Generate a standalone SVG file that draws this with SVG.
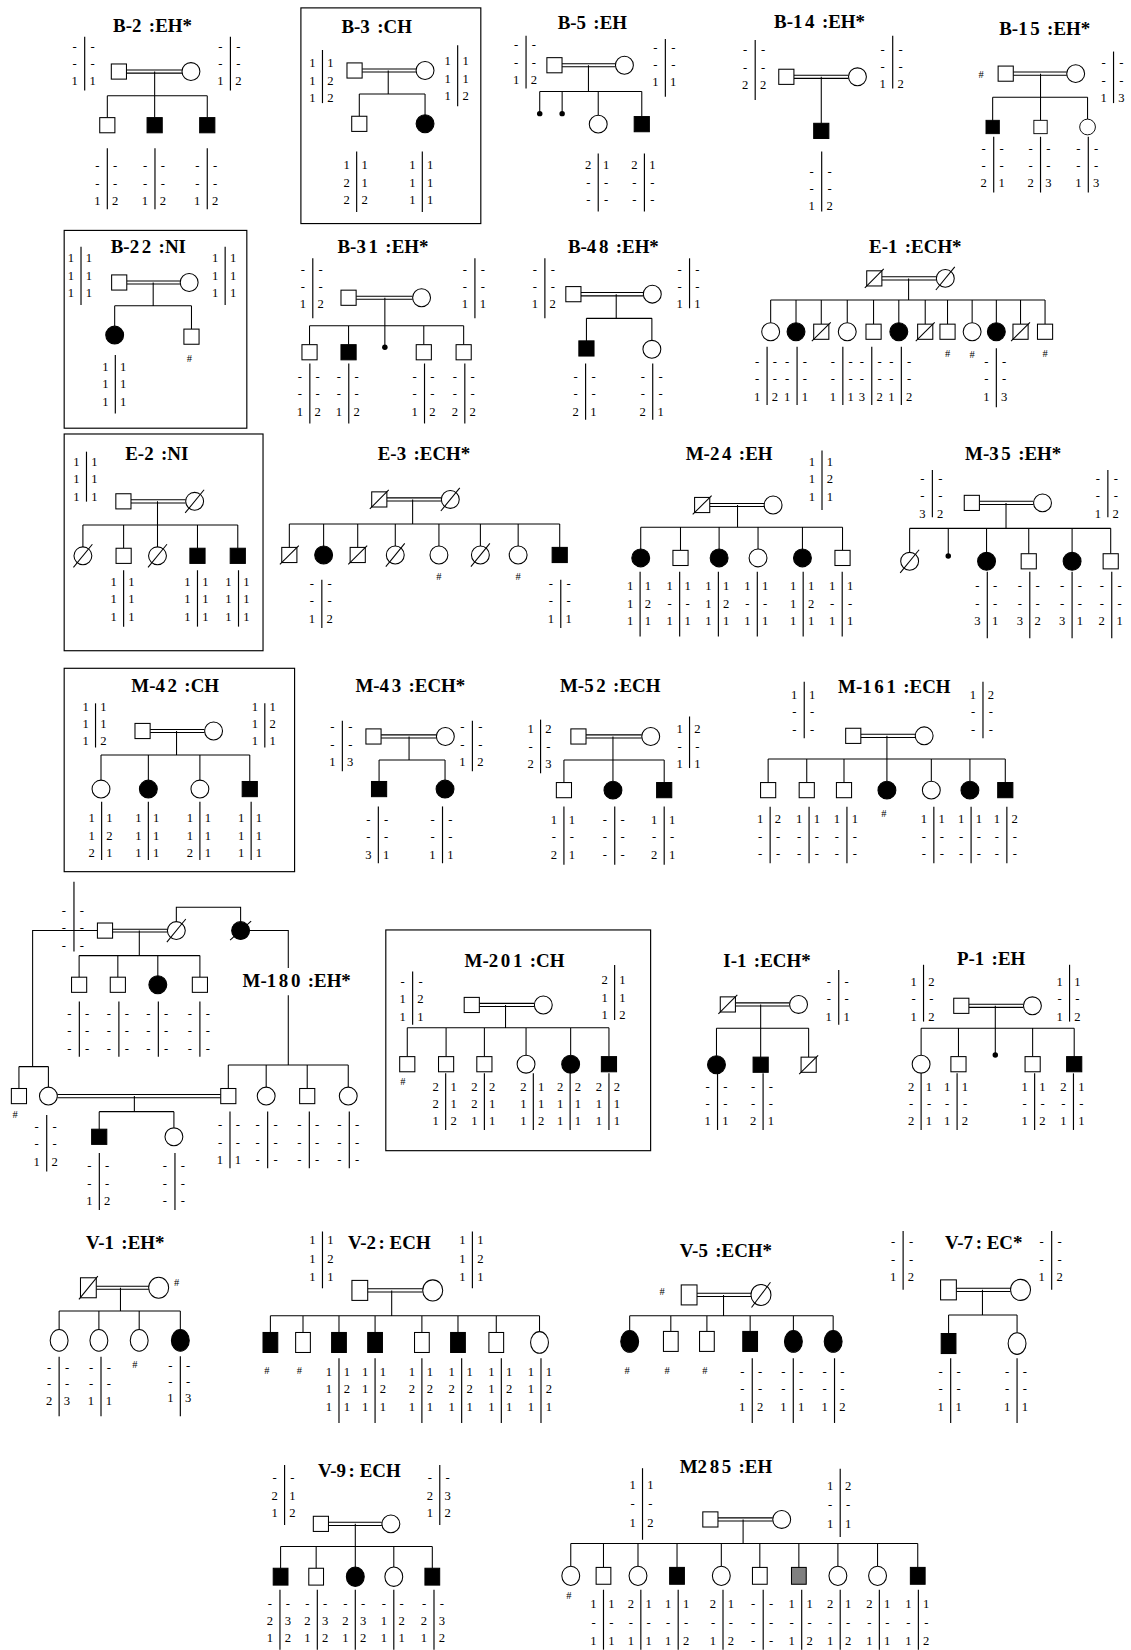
<svg xmlns="http://www.w3.org/2000/svg" width="1131" height="1650" viewBox="0 0 1131 1650">
<style>
.t{font:bold 18px "Liberation Serif",serif;text-anchor:middle}
.g{letter-spacing:2.5px}
.h text{font:12px "Liberation Serif",serif;text-anchor:middle}
.h path{stroke:#000;stroke-width:1.1;fill:none}
.m{font:10px "Liberation Serif",serif;text-anchor:middle}
#connectors path{stroke:#000;stroke-width:1;fill:none}
.box{fill:none;stroke:#000;stroke-width:1.1}
</style>
<defs>
<rect id="s" x="-7.2" y="-7.2" width="14.4" height="14.4" fill="#fff" stroke="#000"/>
<rect id="S" x="-7.2" y="-7.2" width="14.4" height="14.4" fill="#000" stroke="#000"/>
<circle id="c" r="8.5" fill="#fff" stroke="#000"/>
<circle id="C" r="8.5" fill="#000" stroke="#000"/>
<g id="sd"><rect x="-7.2" y="-7.2" width="14.4" height="14.4" fill="#fff" stroke="#000"/><path d="M-9 9L9-9" stroke="#000"/></g>
<g id="cd"><circle r="8.5" fill="#fff" stroke="#000"/><path d="M-9 11L9-11" stroke="#000"/></g>
<g id="Cd"><circle r="8.5" fill="#000" stroke="#000"/><path d="M-10 9L10-9" stroke="#000"/></g>
<circle id="d" r="2.6" fill="#000"/>
<rect id="vs" x="-7" y="-9.5" width="14" height="19" fill="#fff" stroke="#000"/>
<rect id="vS" x="-7" y="-9.5" width="14" height="19" fill="#000" stroke="#000"/>
<ellipse id="ve" rx="8.5" ry="10.3" fill="#fff" stroke="#000"/>
<ellipse id="vE" rx="8.5" ry="10.3" fill="#000" stroke="#000"/>
<rect id="vp" x="-7.5" y="-9.5" width="15" height="19" fill="#fff" stroke="#000"/>
<g id="vpd"><rect x="-7.5" y="-9.5" width="15" height="19" fill="#fff" stroke="#000"/><path d="M-9 11L9-11" stroke="#000"/></g>
<ellipse id="vc" rx="9.5" ry="10" fill="#fff" stroke="#000"/>
<g id="vcd"><ellipse rx="9.5" ry="10" fill="#fff" stroke="#000"/><path d="M-9 12L9-12" stroke="#000"/></g>
<rect id="ws" x="-7" y="-8" width="14" height="16" fill="#fff" stroke="#000"/>
<rect id="wS" x="-7" y="-8" width="14" height="16" fill="#000" stroke="#000"/>
<rect id="wG" x="-7" y="-8" width="14" height="16" fill="#808080" stroke="#000"/>
<ellipse id="we" rx="8.5" ry="9.2" fill="#fff" stroke="#000"/>
<ellipse id="wE" rx="8.5" ry="9.2" fill="#000" stroke="#000"/>
</defs>
<rect width="1131" height="1650" fill="#fff"/>
<g transform="scale(1.0521)">

<g id="connectors">
<path d="M120.2 66.5H173M120.2 69.5H173M147 68V91M102 91H197M102 91V111.8M147 91V111.8M197 91V111.8"/>
<path d="M344.2 65.5H395.5M344.2 68.5H395.5M369 67V89.4M341.5 89.4H404M341.5 89.4V110.5M404 89.4V109.1"/>
<path d="M534.2 60.5H585M534.2 63.5H585M559.3 62V87M513 87H610M513 87V108M534.3 87V108M568.6 87V109.5M610 87V110.8"/>
<path d="M754.6 71.5H806.5M754.6 74.5H806.5M780.6 73V117.2"/>
<path d="M963.1 68.5H1014M963.1 71.5H1014M989 70V92.5M943.5 92.5H1033.7M943.5 92.5V114.7M989 92.5V114.7M1033.7 92.5V114"/>
<path d="M120.5 267H171.3M120.5 270H171.3M145.6 268.5V290.6M109 290.6H182M109 290.6V310M182 290.6V312.8"/>
<path d="M338.5 281.5H392.2M338.5 284.5H392.2M365.8 283V330M294.2 309.6H440.7M294.2 309.6V327.6M331.3 309.6V327.6M402.8 309.6V327.6M440.7 309.6V327.6"/>
<path d="M552.2 278H611.5M552.2 281.2H611.5M585.7 279.6V302.6M557.4 302.6H619.6M557.4 302.6V324M619.6 302.6V323.5"/>
<path d="M838.2 263H890M838.2 266.2H890M863.6 264.6V285.2M732.5 285.2H993.3M732.5 285.2V306.8M756.6 285.2V306.8M780.6 285.2V308.1M805.3 285.2V306.8M830.3 285.2V308.1M854.3 285.2V306.8M879.4 285.2V308.1M900.6 285.2V308.1M924 285.2V306.8M947 285.2V306.8M970 285.2V308.1M993.3 285.2V308.1"/>
<path d="M124.5 475H176.5M124.5 478H176.5M149.7 476.5V499M78.8 499H226M78.8 499V519.8M117.5 499V521.1M149.7 499V519.8M187.7 499V521.1M226 499V521.1"/>
<path d="M367.7 473.2H419.5M367.7 476.2H419.5M392.2 474.7V498M275 498H532M275 498V520.3M307.6 498V519M340 498V520.3M375.7 498V519M417.2 498V519M456.6 498V519M492.5 498V519M532 498V520.3"/>
<path d="M674.6 478.5H726.3M674.6 481.5H726.3M701 480V501.2M609 501.2H800.8M609 501.2V521.8M646.8 501.2V523.1M683.5 501.2V521.8M720.5 501.2V521.8M762.7 501.2V521.8M800.8 501.2V523.1"/>
<path d="M930.9 476.5H982.4M930.9 479.5H982.4M956.2 478V502.2M864.6 502.2H1055.7M864.6 502.2V525M901.3 502.2V528.5M937.7 502.2V525M977.8 502.2V526.3M1019 502.2V525M1055.7 502.2V526.3"/>
<path d="M142.7 693.3H194.5M142.7 696.3H194.5M167.8 694.8V717.6M96 717.6H237.4M96 717.6V741.5M141 717.6V741.5M190 717.6V741.5M237.4 717.6V742.8"/>
<path d="M362.2 698.5H414.8M362.2 701.5H414.8M388.8 700V722.4M360.3 722.4H423M360.3 722.4V742.8M423 722.4V741.5"/>
<path d="M557 698.5H610M557 701.5H610M582.6 700V722.4M536 722.4H631.3M536 722.4V743.8M582.6 722.4V742.5M631.3 722.4V743.8"/>
<path d="M818.2 697.9H870M818.2 700.9H870M843 699.4V721.4M730.1 721.4H955.5M730.1 721.4V743.8M766.8 721.4V743.8M802.2 721.4V743.8M843 721.4V742.5M885.2 721.4V742.5M921.9 721.4V742.5M955.5 721.4V743.8"/>
<path d="M107 883.2H159.1M107 885.8H159.1M132.4 884.5V908.3M75.2 908.3H190M75.2 908.3V928.8M112 908.3V928.8M150 908.3V927.5M190 908.3V928.8M167.6 876V862.4H228.7V876M237.2 884.5H274V920M274 946V1012.3M217 1012.3H331M217 1012.3V1034.6M253 1012.3V1033.3M292 1012.3V1034.6M331 1012.3V1033.3M92.6 884.5H31V1013.8M18 1013.8H46M18 1013.8V1034.6M46 1013.8V1033.3M54.5 1040.3H209.8M54.5 1043.3H209.8M127.7 1041.8V1056.6M94.3 1056.6H165.3M94.3 1056.6V1073M165.3 1056.6V1072"/>
<path d="M455.6 953.7H507.9M455.6 956.7H507.9M480.5 955.2V976.8M387.1 976.8H578.8M387.1 976.8V1004.3M424 976.8V1004.3M460.4 976.8V1004.3M500 976.8V1003M542.4 976.8V1003M578.8 976.8V1004.3"/>
<path d="M699 953.2H750.5M699 956.2H750.5M723 954.7V977.4M681 977.4H768.6M681 977.4V1003.5M723 977.4V1004.8M768.6 977.4V1004.8"/>
<path d="M920.9 954.5H972.8M920.9 957.5H972.8M946 956V1002.7M875.5 977.4H1021M875.5 977.4V1003M911 977.4V1004.3M981.5 977.4V1004.3M1021 977.4V1004.3"/>
<path d="M91.5 1222.5H141.5M91.5 1225.5H141.5M114.5 1224V1246M56.2 1246H171.4M56.2 1246V1263.7M94 1246V1263.7M132.3 1246V1263.7M171.4 1246V1263.7"/>
<path d="M349.5 1225H401.8M349.5 1228H401.8M372.3 1226.5V1250.5M257 1250.5H512.8M257 1250.5V1266.5M288 1250.5V1266.5M322.2 1250.5V1266.5M356.5 1250.5V1266.5M401 1250.5V1266.5M435.3 1250.5V1266.5M471.7 1250.5V1266.5M512.8 1250.5V1265.7"/>
<path d="M662.5 1229.3H713.8M662.5 1232.3H713.8M687.7 1230.8V1250.5M598.5 1250.5H791.9M598.5 1250.5V1264.7M637.6 1250.5V1265.5M671.9 1250.5V1265.5M713 1250.5V1265.5M754.1 1250.5V1264.7M791.9 1250.5V1264.7"/>
<path d="M909 1224.5H960.5M909 1227.5H960.5M933.8 1226V1249.9M901.6 1249.9H966.7M901.6 1249.9V1267.5M966.7 1249.9V1266.7"/>
<path d="M312.2 1446.9H363M312.2 1449.9H363M337.7 1448.4V1489.4M266.7 1470H410.9M266.7 1470V1490.6M300.5 1470V1490.6M374.3 1470V1489.4M410.9 1470V1490.6"/>
<path d="M682.4 1442.7H734.5M682.4 1445.7H734.5M706.3 1444.2V1467M542.5 1467H872.3M542.5 1467V1488.6M573.6 1467V1489.8M606.4 1467V1488.6M643.5 1467V1489.8M685.6 1467V1488.6M722.2 1467V1489.8M759.3 1467V1489.8M796.4 1467V1488.6M834.1 1467V1488.6M872.3 1467V1489.8"/>
</g>

<g id="B-2">
<text class="t" x="145" y="30">B-<tspan class="g">2</tspan> :EH*</text>
<use id="B2-f" href="#s" x="113" y="68"/><use id="B2-m" href="#c" x="181.5" y="68"/>
<use id="B2-1" href="#s" x="102" y="119"/><use id="B2-2" href="#S" x="147" y="119"/><use id="B2-3" href="#S" x="197" y="119"/>
<g class="h">
<g transform="translate(80.5 48)"><path d="M0-13V38"/><text x="-9.5 -9.5 -9.5 7.5 7.5 7.5" y="0 16.5 33 0 16.5 33">--1--1</text></g>
<g transform="translate(219 48)"><path d="M0-13V38"/><text x="-9.5 -9.5 -9.5 7.5 7.5 7.5" y="0 16.5 33 0 16.5 33">--1--2</text></g>
<g transform="translate(102 162)"><path d="M0-21V37"/><text x="-9.5 -9.5 -9.5 7.5 7.5 7.5" y="0 16.5 33 0 16.5 33">--1--2</text></g>
<g transform="translate(147.3 162)"><path d="M0-21V37"/><text x="-9.5 -9.5 -9.5 7.5 7.5 7.5" y="0 16.5 33 0 16.5 33">--1--2</text></g>
<g transform="translate(197 162)"><path d="M0-21V37"/><text x="-9.5 -9.5 -9.5 7.5 7.5 7.5" y="0 16.5 33 0 16.5 33">--1--2</text></g>
</g>
</g>

<g id="B-3">
<rect class="box" x="286" y="7.5" width="171" height="205"/>
<text class="t" x="358" y="31">B-<tspan class="g">3</tspan> :CH</text>
<use id="B3-f" href="#s" x="337" y="67"/><use id="B3-m" href="#c" x="404" y="67"/>
<use id="B3-1" href="#s" x="341.5" y="117.7"/><use id="B3-2" href="#C" x="404" y="117.6"/>
<g class="h">
<g transform="translate(306.5 64)"><path d="M0-16.5V34"/><text x="-9.5 -9.5 -9.5 7.5 7.5 7.5" y="0 16.5 33 0 16.5 33">111122</text></g>
<g transform="translate(435 62)"><path d="M0-19V39"/><text x="-9.5 -9.5 -9.5 7.5 7.5 7.5" y="0 16.5 33 0 16.5 33">111112</text></g>
<g transform="translate(339 161)"><path d="M0-17V40.5"/><text x="-9.5 -9.5 -9.5 7.5 7.5 7.5" y="0 16.5 33 0 16.5 33">122112</text></g>
<g transform="translate(401.4 161)"><path d="M0-17V40.5"/><text x="-9.5 -9.5 -9.5 7.5 7.5 7.5" y="0 16.5 33 0 16.5 33">111111</text></g>
</g>
</g>

<g id="B-5">
<text class="t" x="563" y="28">B-<tspan class="g">5</tspan> :EH</text>
<use id="B5-f" href="#s" x="527" y="62"/><use id="B5-m" href="#c" x="593.5" y="62"/>
<use id="B5-1" href="#d" x="513" y="108"/><use id="B5-2" href="#d" x="534.3" y="108"/>
<use id="B5-3" href="#c" x="568.6" y="118"/><use id="B5-4" href="#S" x="610" y="118"/>
<g class="h">
<g transform="translate(500 47)"><path d="M0-13V37"/><text x="-9.5 -9.5 -9.5 7.5 7.5 7.5" y="0 16.5 33 0 16.5 33">--1--2</text></g>
<g transform="translate(632.4 49)"><path d="M0-12V43"/><text x="-9.5 -9.5 -9.5 7.5 7.5 7.5" y="0 16.5 33 0 16.5 33">--1--1</text></g>
<g transform="translate(568.6 161)"><path d="M0-15V40"/><text x="-9.5 -9.5 -9.5 7.5 7.5 7.5" y="0 16.5 33 0 16.5 33">2--1--</text></g>
<g transform="translate(612.5 161)"><path d="M0-15V40"/><text x="-9.5 -9.5 -9.5 7.5 7.5 7.5" y="0 16.5 33 0 16.5 33">2--1--</text></g>
</g>
</g>

<g id="B-14">
<text class="t" x="779" y="27">B-<tspan class="g">14</tspan> :EH*</text>
<use id="B14-f" href="#s" x="747.4" y="73"/><use id="B14-m" href="#c" x="815" y="73"/>
<use id="B14-1" href="#S" x="780.6" y="124.4"/>
<g class="h">
<g transform="translate(717.8 51.5)"><path d="M0-13.5V43.5"/><text x="-9.5 -9.5 -9.5 7.5 7.5 7.5" y="0 16.5 33 0 16.5 33">--2--2</text></g>
<g transform="translate(848.5 51)"><path d="M0-17V33"/><text x="-9.5 -9.5 -9.5 7.5 7.5 7.5" y="0 16.5 33 0 16.5 33">--1--2</text></g>
<g transform="translate(781 167)"><path d="M0-23V34"/><text x="-9.5 -9.5 -9.5 7.5 7.5 7.5" y="0 16.5 33 0 16.5 33">--1--2</text></g>
</g>
</g>

<g id="B-15">
<text class="t" x="993" y="33">B-<tspan class="g">15</tspan> :EH*</text>
<text class="m" x="932.5" y="74">#</text>
<use id="B15-f" href="#s" x="955.9" y="70"/><use id="B15-m" href="#c" x="1022.4" y="70"/>
<use id="B15-1" href="#S" transform="translate(943.5 120.7) scale(.88)"/>
<use id="B15-2" href="#s" transform="translate(989 120.7) scale(.88)"/>
<use id="B15-3" href="#c" transform="translate(1033.7 120.7) scale(.88)"/>
<g class="h">
<g transform="translate(1058.4 64)"><path d="M0-15V34"/><text x="-9.5 -9.5 -9.5 7.5 7.5 7.5" y="0 16.5 33 0 16.5 33">--1--3</text></g>
<g transform="translate(944.5 145)"><path d="M0-15V38"/><text x="-9.5 -9.5 -9.5 7.5 7.5 7.5" y="0 16.5 33 0 16.5 33">--2--1</text></g>
<g transform="translate(989 145)"><path d="M0-15V38"/><text x="-9.5 -9.5 -9.5 7.5 7.5 7.5" y="0 16.5 33 0 16.5 33">--2--3</text></g>
<g transform="translate(1034.4 145)"><path d="M0-15V38"/><text x="-9.5 -9.5 -9.5 7.5 7.5 7.5" y="0 16.5 33 0 16.5 33">--1--3</text></g>
</g>
</g>

<g id="B-22">
<rect class="box" x="61" y="219" width="173.6" height="188"/>
<text class="t" x="141" y="240">B-<tspan class="g">22</tspan> :NI</text>
<use id="B22-f" href="#s" x="113.3" y="268.5"/><use id="B22-m" href="#c" x="179.8" y="268.5"/>
<use id="B22-1" href="#C" x="109" y="318.5"/><use id="B22-2" href="#s" x="182" y="320"/>
<text class="m" x="180" y="344">#</text>
<g class="h">
<g transform="translate(77 249.5)"><path d="M0-15V40.5"/><text x="-9.5 -9.5 -9.5 7.5 7.5 7.5" y="0 16.5 33 0 16.5 33">111111</text></g>
<g transform="translate(214 249.5)"><path d="M0-15V40.5"/><text x="-9.5 -9.5 -9.5 7.5 7.5 7.5" y="0 16.5 33 0 16.5 33">111111</text></g>
<g transform="translate(109.6 352.5)"><path d="M0-15V40.5"/><text x="-9.5 -9.5 -9.5 7.5 7.5 7.5" y="0 16.5 33 0 16.5 33">111111</text></g>
</g>
</g>

<g id="B-31">
<text class="t" x="364" y="240">B-<tspan class="g">31</tspan> :EH*</text>
<use id="B31-f" href="#s" x="331.3" y="283"/><use id="B31-m" href="#c" x="400.7" y="283"/>
<use id="B31-1" href="#s" x="294.2" y="334.8"/><use id="B31-2" href="#S" x="331.3" y="334.8"/><use id="B31-3" href="#d" x="365.8" y="330"/><use id="B31-4" href="#s" x="402.8" y="334.8"/><use id="B31-5" href="#s" x="440.7" y="334.8"/>
<g class="h">
<g transform="translate(297.3 260)"><path d="M0-14.5V42.5"/><text x="-9.5 -9.5 -9.5 7.5 7.5 7.5" y="0 16.5 33 0 16.5 33">--1--2</text></g>
<g transform="translate(451.4 260)"><path d="M0-14.5V42.5"/><text x="-9.5 -9.5 -9.5 7.5 7.5 7.5" y="0 16.5 33 0 16.5 33">--1--1</text></g>
<g transform="translate(294.5 362)"><path d="M0-16.5V40.5"/><text x="-9.5 -9.5 -9.5 7.5 7.5 7.5" y="0 16.5 33 0 16.5 33">--1--2</text></g>
<g transform="translate(331.5 362)"><path d="M0-16.5V40.5"/><text x="-9.5 -9.5 -9.5 7.5 7.5 7.5" y="0 16.5 33 0 16.5 33">--1--2</text></g>
<g transform="translate(403.5 362)"><path d="M0-16.5V40.5"/><text x="-9.5 -9.5 -9.5 7.5 7.5 7.5" y="0 16.5 33 0 16.5 33">--1--2</text></g>
<g transform="translate(441.8 362)"><path d="M0-16.5V40.5"/><text x="-9.5 -9.5 -9.5 7.5 7.5 7.5" y="0 16.5 33 0 16.5 33">--2--2</text></g>
</g>
</g>

<g id="B-48">
<text class="t" x="583" y="240">B-<tspan class="g">48</tspan> :EH*</text>
<use id="B48-f" href="#s" x="545" y="279.6"/><use id="B48-m" href="#c" x="620" y="279.6"/>
<use id="B48-1" href="#S" x="557.4" y="331.2"/><use id="B48-2" href="#c" x="619.6" y="332"/>
<g class="h">
<g transform="translate(517.9 260)"><path d="M0-14.5V42.5"/><text x="-9.5 -9.5 -9.5 7.5 7.5 7.5" y="0 16.5 33 0 16.5 33">--1--2</text></g>
<g transform="translate(655.4 260)"><path d="M0-14.5V33"/><text x="-9.5 -9.5 -9.5 7.5 7.5 7.5" y="0 16.5 33 0 16.5 33">--1--1</text></g>
<g transform="translate(556.6 362)"><path d="M0-16.5V37"/><text x="-9.5 -9.5 -9.5 7.5 7.5 7.5" y="0 16.5 33 0 16.5 33">--2--1</text></g>
<g transform="translate(620.4 362)"><path d="M0-16.5V37"/><text x="-9.5 -9.5 -9.5 7.5 7.5 7.5" y="0 16.5 33 0 16.5 33">--2--1</text></g>
</g>
</g>

<g id="E-1">
<text class="t" x="870" y="240">E-<tspan class="g">1</tspan> :ECH*</text>
<use id="E1-f" href="#sd" x="831" y="264.6"/><use id="E1-m" href="#cd" x="898.5" y="264.6"/>
<use href="#c" x="732.5" y="315.3"/><use href="#C" x="756.6" y="315.3"/><use href="#sd" x="780.6" y="315.3"/><use href="#c" x="805.3" y="315.3"/><use href="#s" x="830.3" y="315.3"/><use href="#C" x="854.3" y="315.3"/><use href="#sd" x="879.4" y="315.3"/><use href="#s" x="900.6" y="315.3"/><use href="#c" x="924" y="315.3"/><use href="#C" x="947" y="315.3"/><use href="#sd" x="970" y="315.3"/><use href="#s" x="993.3" y="315.3"/>
<text class="m" x="900.6" y="339">#</text><text class="m" x="924" y="340">#</text><text class="m" x="993.3" y="339">#</text>
<g class="h">
<g transform="translate(729.1 348)"><path d="M0-18.5V37"/><text x="-9.5 -9.5 -9.5 7.5 7.5 7.5" y="0 16.5 33 0 16.5 33">--1--2</text></g>
<g transform="translate(757.6 348)"><path d="M0-18.5V37"/><text x="-9.5 -9.5 -9.5 7.5 7.5 7.5" y="0 16.5 33 0 16.5 33">--1--1</text></g>
<g transform="translate(801.1 348)"><path d="M0-18.5V37"/><text x="-9.5 -9.5 -9.5 7.5 7.5 7.5" y="0 16.5 33 0 16.5 33">--1--1</text></g>
<g transform="translate(828.6 348)"><path d="M0-18.5V37"/><text x="-9.5 -9.5 -9.5 7.5 7.5 7.5" y="0 16.5 33 0 16.5 33">--3--2</text></g>
<g transform="translate(856.7 348)"><path d="M0-18.5V37"/><text x="-9.5 -9.5 -9.5 7.5 7.5 7.5" y="0 16.5 33 0 16.5 33">--1--2</text></g>
<g transform="translate(947 348)"><path d="M0-17V39"/><text x="-9.5 -9.5 -9.5 7.5 7.5 7.5" y="0 16.5 33 0 16.5 33">--1--3</text></g>
</g>
</g>

<g id="E-2">
<rect class="box" x="61" y="412.5" width="189" height="206"/>
<text class="t" x="149" y="437">E-<tspan class="g">2</tspan> :NI</text>
<use id="E2-f" href="#s" x="117.3" y="476.5"/><use id="E2-m" href="#cd" x="185" y="476.5"/>
<use href="#cd" x="78.8" y="528.3"/><use href="#s" x="117.5" y="528.3"/><use href="#cd" x="149.7" y="528.3"/><use href="#S" x="187.7" y="528.3"/><use href="#S" x="226" y="528.3"/>
<g class="h">
<g transform="translate(82.2 443)"><path d="M0-13.7V33.8"/><text x="-9.5 -9.5 -9.5 7.5 7.5 7.5" y="0 16.5 33 0 16.5 33">111111</text></g>
<g transform="translate(117.5 557)"><path d="M0-15V38.6"/><text x="-9.5 -9.5 -9.5 7.5 7.5 7.5" y="0 16.5 33 0 16.5 33">111111</text></g>
<g transform="translate(187.7 557)"><path d="M0-15V38.6"/><text x="-9.5 -9.5 -9.5 7.5 7.5 7.5" y="0 16.5 33 0 16.5 33">111111</text></g>
<g transform="translate(226.7 557)"><path d="M0-15V38.6"/><text x="-9.5 -9.5 -9.5 7.5 7.5 7.5" y="0 16.5 33 0 16.5 33">111111</text></g>
</g>
</g>

<g id="E-3">
<text class="t" x="403" y="437">E-<tspan class="g">3</tspan> :ECH*</text>
<use id="E3-f" href="#sd" x="360.5" y="474.7"/><use id="E3-m" href="#cd" x="428" y="474.7"/>
<use href="#sd" x="275" y="527.5"/><use href="#C" x="307.6" y="527.5"/><use href="#sd" x="340" y="527.5"/><use href="#cd" x="375.7" y="527.5"/><use href="#c" x="417.2" y="527.5"/><use href="#cd" x="456.6" y="527.5"/><use href="#c" x="492.5" y="527.5"/><use href="#S" x="532" y="527.5"/>
<text class="m" x="417.2" y="551">#</text><text class="m" x="492.5" y="551">#</text>
<g class="h">
<g transform="translate(305.9 559)"><path d="M0-8V38"/><text x="-9.5 -9.5 -9.5 7.5 7.5 7.5" y="0 16.5 33 0 16.5 33">--1--2</text></g>
<g transform="translate(533 559)"><path d="M0-8V38"/><text x="-9.5 -9.5 -9.5 7.5 7.5 7.5" y="0 16.5 33 0 16.5 33">--1--1</text></g>
</g>
</g>

<g id="M-24">
<text class="t" x="693" y="437">M-<tspan class="g">24</tspan> :EH</text>
<use id="M24-f" href="#sd" x="667.4" y="480"/><use id="M24-m" href="#c" x="734.8" y="480"/>
<use href="#C" x="609" y="530.3"/><use href="#s" x="646.8" y="530.3"/><use href="#C" x="683.5" y="530.3"/><use href="#c" x="720.5" y="530.3"/><use href="#C" x="762.7" y="530.3"/><use href="#s" x="800.8" y="530.3"/>
<g class="h">
<g transform="translate(781.3 443)"><path d="M0-14.7V41.7"/><text x="-9.5 -9.5 -9.5 7.5 7.5 7.5" y="0 16.5 33 0 16.5 33">111121</text></g>
<g transform="translate(608.4 561)"><path d="M0-17.6V44"/><text x="-9.5 -9.5 -9.5 7.5 7.5 7.5" y="0 16.5 33 0 16.5 33">111121</text></g>
<g transform="translate(646 561)"><path d="M0-17.6V44"/><text x="-9.5 -9.5 -9.5 7.5 7.5 7.5" y="0 16.5 33 0 16.5 33">1-11-1</text></g>
<g transform="translate(682.8 561)"><path d="M0-17.6V44"/><text x="-9.5 -9.5 -9.5 7.5 7.5 7.5" y="0 16.5 33 0 16.5 33">111121</text></g>
<g transform="translate(719.8 561)"><path d="M0-17.6V44"/><text x="-9.5 -9.5 -9.5 7.5 7.5 7.5" y="0 16.5 33 0 16.5 33">1-11-1</text></g>
<g transform="translate(763.4 561)"><path d="M0-17.6V44"/><text x="-9.5 -9.5 -9.5 7.5 7.5 7.5" y="0 16.5 33 0 16.5 33">111121</text></g>
<g transform="translate(800.5 561)"><path d="M0-17.6V44"/><text x="-9.5 -9.5 -9.5 7.5 7.5 7.5" y="0 16.5 33 0 16.5 33">1-11-1</text></g>
</g>
</g>

<g id="M-35">
<text class="t" x="963" y="437">M-<tspan class="g">35</tspan> :EH*</text>
<use id="M35-f" href="#s" x="923.7" y="478"/><use id="M35-m" href="#c" x="990.9" y="478"/>
<use href="#cd" x="864.6" y="533.5"/><use href="#d" x="901.3" y="528.5"/><use href="#C" x="937.7" y="533.5"/><use href="#s" x="977.8" y="533.5"/><use href="#C" x="1019" y="533.5"/><use href="#s" x="1055.7" y="533.5"/>
<g class="h">
<g transform="translate(886.2 459)"><path d="M0-12.3V32.7"/><text x="-9.5 -9.5 -9.5 7.5 7.5 7.5" y="0 16.5 33 0 16.5 33">--3--2</text></g>
<g transform="translate(1053 459)"><path d="M0-12.3V32.7"/><text x="-9.5 -9.5 -9.5 7.5 7.5 7.5" y="0 16.5 33 0 16.5 33">--1--2</text></g>
<g transform="translate(938.4 561)"><path d="M0-17.6V45.7"/><text x="-9.5 -9.5 -9.5 7.5 7.5 7.5" y="0 16.5 33 0 16.5 33">--3--1</text></g>
<g transform="translate(978.8 561)"><path d="M0-17.6V45.7"/><text x="-9.5 -9.5 -9.5 7.5 7.5 7.5" y="0 16.5 33 0 16.5 33">--3--2</text></g>
<g transform="translate(1019 561)"><path d="M0-17.6V45.7"/><text x="-9.5 -9.5 -9.5 7.5 7.5 7.5" y="0 16.5 33 0 16.5 33">--3--1</text></g>
<g transform="translate(1056.7 561)"><path d="M0-17.6V45.7"/><text x="-9.5 -9.5 -9.5 7.5 7.5 7.5" y="0 16.5 33 0 16.5 33">--2--1</text></g>
</g>
</g>

<g id="M-42">
<rect class="box" x="61" y="635.2" width="219" height="193.3"/>
<text class="t" x="166.5" y="657.4">M-<tspan class="g">42</tspan> :CH</text>
<use id="M42-f" href="#s" x="135.5" y="694.8"/><use id="M42-m" href="#c" x="203" y="694.8"/>
<use href="#c" x="96" y="750"/><use href="#C" x="141" y="750"/><use href="#c" x="190" y="750"/><use href="#S" x="237.4" y="750"/>
<g class="h">
<g transform="translate(90.8 675.5)"><path d="M0-7V35"/><text x="-9.5 -9.5 -9.5 7.5 7.5 7.5" y="0 16.5 33 0 16.5 33">111112</text></g>
<g transform="translate(251.7 675.5)"><path d="M0-7V35"/><text x="-9.5 -9.5 -9.5 7.5 7.5 7.5" y="0 16.5 33 0 16.5 33">111121</text></g>
<g transform="translate(96.6 781.5)"><path d="M0-19.5V36"/><text x="-9.5 -9.5 -9.5 7.5 7.5 7.5" y="0 16.5 33 0 16.5 33">112121</text></g>
<g transform="translate(141 781.5)"><path d="M0-19.5V36"/><text x="-9.5 -9.5 -9.5 7.5 7.5 7.5" y="0 16.5 33 0 16.5 33">111111</text></g>
<g transform="translate(190 781.5)"><path d="M0-19.5V36"/><text x="-9.5 -9.5 -9.5 7.5 7.5 7.5" y="0 16.5 33 0 16.5 33">112111</text></g>
<g transform="translate(238.7 781.5)"><path d="M0-19.5V36"/><text x="-9.5 -9.5 -9.5 7.5 7.5 7.5" y="0 16.5 33 0 16.5 33">111111</text></g>
</g>
</g>

<g id="M-43">
<text class="t" x="390" y="657.4">M-<tspan class="g">43</tspan> :ECH*</text>
<use id="M43-f" href="#s" x="355" y="700"/><use id="M43-m" href="#c" x="423.3" y="700"/>
<use href="#S" x="360.3" y="750"/><use href="#C" x="423" y="750"/>
<g class="h">
<g transform="translate(325.4 695)"><path d="M0-10V38"/><text x="-9.5 -9.5 -9.5 7.5 7.5 7.5" y="0 16.5 33 0 16.5 33">--1--3</text></g>
<g transform="translate(449 695)"><path d="M0-10V38"/><text x="-9.5 -9.5 -9.5 7.5 7.5 7.5" y="0 16.5 33 0 16.5 33">--1--2</text></g>
<g transform="translate(359.6 783)"><path d="M0-16.5V37.5"/><text x="-9.5 -9.5 -9.5 7.5 7.5 7.5" y="0 16.5 33 0 16.5 33">--3--1</text></g>
<g transform="translate(420.6 783)"><path d="M0-16.5V37.5"/><text x="-9.5 -9.5 -9.5 7.5 7.5 7.5" y="0 16.5 33 0 16.5 33">--1--1</text></g>
</g>
</g>

<g id="M-52">
<text class="t" x="580" y="657.4">M-<tspan class="g">52</tspan> :ECH</text>
<use id="M52-f" href="#s" x="549.8" y="700"/><use id="M52-m" href="#c" x="618.5" y="700"/>
<use href="#s" x="536" y="751"/><use href="#C" x="582.6" y="751"/><use href="#S" x="631.3" y="751"/>
<g class="h">
<g transform="translate(513.8 697)"><path d="M0-13V38"/><text x="-9.5 -9.5 -9.5 7.5 7.5 7.5" y="0 16.5 33 0 16.5 33">1-22-3</text></g>
<g transform="translate(655.4 697)"><path d="M0-16V33"/><text x="-9.5 -9.5 -9.5 7.5 7.5 7.5" y="0 16.5 33 0 16.5 33">1-12-1</text></g>
<g transform="translate(536 783)"><path d="M0-16.5V39"/><text x="-9.5 -9.5 -9.5 7.5 7.5 7.5" y="0 16.5 33 0 16.5 33">1-21-1</text></g>
<g transform="translate(584.3 783)"><path d="M0-16.5V39"/><text x="-9.5 -9.5 -9.5 7.5 7.5 7.5" y="0 16.5 33 0 16.5 33">------</text></g>
<g transform="translate(631.3 783)"><path d="M0-16.5V39"/><text x="-9.5 -9.5 -9.5 7.5 7.5 7.5" y="0 16.5 33 0 16.5 33">1-21-1</text></g>
</g>
</g>

<g id="M-161">
<text class="t" x="850" y="659">M-<tspan class="g">161</tspan> :ECH</text>
<use id="M161-f" href="#s" x="811" y="699.4"/><use id="M161-m" href="#c" x="878.4" y="699.4"/>
<use href="#s" x="730.1" y="751"/><use href="#s" x="766.8" y="751"/><use href="#s" x="802.2" y="751"/><use href="#C" x="843" y="751"/><use href="#c" x="885.2" y="751"/><use href="#C" x="921.9" y="751"/><use href="#S" x="955.5" y="751"/>
<text class="m" x="840" y="777">#</text>
<g class="h">
<g transform="translate(764.4 664.5)"><path d="M0-16.6V37.3"/><text x="-9.5 -9.5 -9.5 7.5 7.5 7.5" y="0 16.5 33 0 16.5 33">1--1--</text></g>
<g transform="translate(934.3 664.5)"><path d="M0-16.6V37.3"/><text x="-9.5 -9.5 -9.5 7.5 7.5 7.5" y="0 16.5 33 0 16.5 33">1--2--</text></g>
<g transform="translate(732 782.5)"><path d="M0-15.8V38"/><text x="-9.5 -9.5 -9.5 7.5 7.5 7.5" y="0 16.5 33 0 16.5 33">1--2--</text></g>
<g transform="translate(769 782.5)"><path d="M0-15.8V38"/><text x="-9.5 -9.5 -9.5 7.5 7.5 7.5" y="0 16.5 33 0 16.5 33">1--1--</text></g>
<g transform="translate(805 782.5)"><path d="M0-15.8V38"/><text x="-9.5 -9.5 -9.5 7.5 7.5 7.5" y="0 16.5 33 0 16.5 33">1--1--</text></g>
<g transform="translate(887.6 782.5)"><path d="M0-15.8V38"/><text x="-9.5 -9.5 -9.5 7.5 7.5 7.5" y="0 16.5 33 0 16.5 33">1--1--</text></g>
<g transform="translate(923 782.5)"><path d="M0-15.8V38"/><text x="-9.5 -9.5 -9.5 7.5 7.5 7.5" y="0 16.5 33 0 16.5 33">1--1--</text></g>
<g transform="translate(957 782.5)"><path d="M0-15.8V38"/><text x="-9.5 -9.5 -9.5 7.5 7.5 7.5" y="0 16.5 33 0 16.5 33">1--2--</text></g>
</g>
</g>

<g id="M-180">
<text class="t" x="282" y="938">M-<tspan class="g">180</tspan> :EH*</text>
<use id="M180-f" href="#s" x="99.8" y="884.5"/><use id="M180-m" href="#cd" x="167.6" y="884.5"/><use id="M180-ms" href="#Cd" x="228.7" y="884.5"/>
<use href="#s" x="75.2" y="936"/><use href="#s" x="112" y="936"/><use href="#C" x="150" y="936"/><use href="#s" x="190" y="936"/>
<use href="#s" x="18" y="1041.8"/><use href="#c" x="46" y="1041.8"/>
<use href="#s" x="217" y="1041.8"/><use href="#c" x="253" y="1041.8"/><use href="#s" x="292" y="1041.8"/><use href="#c" x="331" y="1041.8"/>
<use href="#S" x="94.3" y="1080.5"/><use href="#c" x="165.3" y="1080.5"/>
<text class="m" x="14.3" y="1063">#</text>
<g class="h">
<g transform="translate(70.3 869.5)"><path d="M0-31.5V35"/><text x="-9.5 -9.5 -9.5 7.5 7.5 7.5" y="0 16.5 33 0 16.5 33">------</text></g>
<g transform="translate(75.4 967.5)"><path d="M0-15.5V37"/><text x="-9.5 -9.5 -9.5 7.5 7.5 7.5" y="0 16.5 33 0 16.5 33">------</text></g>
<g transform="translate(113 967.5)"><path d="M0-15.5V37"/><text x="-9.5 -9.5 -9.5 7.5 7.5 7.5" y="0 16.5 33 0 16.5 33">------</text></g>
<g transform="translate(150.5 967.5)"><path d="M0-15.5V37"/><text x="-9.5 -9.5 -9.5 7.5 7.5 7.5" y="0 16.5 33 0 16.5 33">------</text></g>
<g transform="translate(190 967.5)"><path d="M0-15.5V37"/><text x="-9.5 -9.5 -9.5 7.5 7.5 7.5" y="0 16.5 33 0 16.5 33">------</text></g>
<g transform="translate(44.4 1075)"><path d="M0-15.2V38.6"/><text x="-9.5 -9.5 -9.5 7.5 7.5 7.5" y="0 16.5 33 0 16.5 33">--1--2</text></g>
<g transform="translate(94.4 1112.5)"><path d="M0-16.5V37.5"/><text x="-9.5 -9.5 -9.5 7.5 7.5 7.5" y="0 16.5 33 0 16.5 33">--1--2</text></g>
<g transform="translate(166.3 1112.5)"><path d="M0-16.5V37.5"/><text x="-9.5 -9.5 -9.5 7.5 7.5 7.5" y="0 16.5 33 0 16.5 33">------</text></g>
<g transform="translate(218.6 1073.5)"><path d="M0-17V37"/><text x="-9.5 -9.5 -9.5 7.5 7.5 7.5" y="0 16.5 33 0 16.5 33">--1--1</text></g>
<g transform="translate(254.4 1073.5)"><path d="M0-17V37"/><text x="-9.5 -9.5 -9.5 7.5 7.5 7.5" y="0 16.5 33 0 16.5 33">------</text></g>
<g transform="translate(294 1073.5)"><path d="M0-17V37"/><text x="-9.5 -9.5 -9.5 7.5 7.5 7.5" y="0 16.5 33 0 16.5 33">------</text></g>
<g transform="translate(332 1073.5)"><path d="M0-17V37"/><text x="-9.5 -9.5 -9.5 7.5 7.5 7.5" y="0 16.5 33 0 16.5 33">------</text></g>
</g>
</g>

<g id="M-201">
<rect class="box" x="366.7" y="883.9" width="251.7" height="209.8"/>
<text class="t" x="489" y="918.8">M-<tspan class="g">201</tspan> :CH</text>
<use id="M201-f" href="#s" x="448.4" y="955.2"/><use id="M201-m" href="#c" x="516.4" y="955.2"/>
<use href="#s" x="387.1" y="1011.5"/><use href="#s" x="424" y="1011.5"/><use href="#s" x="460.4" y="1011.5"/><use href="#c" x="500" y="1011.5"/><use href="#C" x="542.4" y="1011.5"/><use href="#S" x="578.8" y="1011.5"/>
<text class="m" x="383" y="1031">#</text>
<g class="h">
<g transform="translate(392.2 937)"><path d="M0-13.5V37"/><text x="-9.5 -9.5 -9.5 7.5 7.5 7.5" y="0 16.5 33 0 16.5 33">-11-21</text></g>
<g transform="translate(584.2 935.5)"><path d="M0-18.3V34"/><text x="-9.5 -9.5 -9.5 7.5 7.5 7.5" y="0 16.5 33 0 16.5 33">211112</text></g>
<g transform="translate(423.6 1036.5)"><path d="M0-16.3V37.5"/><text x="-9.5 -9.5 -9.5 7.5 7.5 7.5" y="0 16.5 33 0 16.5 33">221112</text></g>
<g transform="translate(460.4 1036.5)"><path d="M0-16.3V37.5"/><text x="-9.5 -9.5 -9.5 7.5 7.5 7.5" y="0 16.5 33 0 16.5 33">221211</text></g>
<g transform="translate(506.9 1036.5)"><path d="M0-16.3V37.5"/><text x="-9.5 -9.5 -9.5 7.5 7.5 7.5" y="0 16.5 33 0 16.5 33">211112</text></g>
<g transform="translate(541.9 1036.5)"><path d="M0-16.3V37.5"/><text x="-9.5 -9.5 -9.5 7.5 7.5 7.5" y="0 16.5 33 0 16.5 33">211211</text></g>
<g transform="translate(578.8 1036.5)"><path d="M0-16.3V37.5"/><text x="-9.5 -9.5 -9.5 7.5 7.5 7.5" y="0 16.5 33 0 16.5 33">211211</text></g>
</g>
</g>

<g id="I-1">
<text class="t" x="729" y="918.8">I-<tspan class="g">1</tspan> :ECH*</text>
<use id="I1-f" href="#sd" x="691.8" y="954.7"/><use id="I1-m" href="#c" x="759" y="954.7"/>
<use href="#C" x="681" y="1012"/><use href="#S" x="723" y="1012"/><use href="#sd" x="768.6" y="1012"/>
<g class="h">
<g transform="translate(797.2 937)"><path d="M0-15V37"/><text x="-9.5 -9.5 -9.5 7.5 7.5 7.5" y="0 16.5 33 0 16.5 33">--1--1</text></g>
<g transform="translate(682 1036.5)"><path d="M0-16.3V37.5"/><text x="-9.5 -9.5 -9.5 7.5 7.5 7.5" y="0 16.5 33 0 16.5 33">--1--1</text></g>
<g transform="translate(725.3 1036.5)"><path d="M0-16.3V37.5"/><text x="-9.5 -9.5 -9.5 7.5 7.5 7.5" y="0 16.5 33 0 16.5 33">--2--1</text></g>
</g>
</g>

<g id="P-1">
<text class="t" x="942" y="917.2">P-<tspan class="g">1</tspan> :EH</text>
<use id="P1-f" href="#s" x="913.7" y="956"/><use id="P1-m" href="#c" x="981.3" y="956"/>
<use href="#c" x="875.5" y="1011.5"/><use href="#s" x="911" y="1011.5"/><use href="#d" x="946" y="1002.7"/><use href="#s" x="981.5" y="1011.5"/><use href="#S" x="1021" y="1011.5"/>
<g class="h">
<g transform="translate(877.8 937)"><path d="M0-20V34"/><text x="-9.5 -9.5 -9.5 7.5 7.5 7.5" y="0 16.5 33 0 16.5 33">1-12-2</text></g>
<g transform="translate(1016.6 937)"><path d="M0-20V34"/><text x="-9.5 -9.5 -9.5 7.5 7.5 7.5" y="0 16.5 33 0 16.5 33">1-11-2</text></g>
<g transform="translate(875.5 1036.5)"><path d="M0-16.3V37.5"/><text x="-9.5 -9.5 -9.5 7.5 7.5 7.5" y="0 16.5 33 0 16.5 33">2-21-1</text></g>
<g transform="translate(909.7 1036.5)"><path d="M0-16.3V37.5"/><text x="-9.5 -9.5 -9.5 7.5 7.5 7.5" y="0 16.5 33 0 16.5 33">1-11-2</text></g>
<g transform="translate(983.4 1036.5)"><path d="M0-16.3V37.5"/><text x="-9.5 -9.5 -9.5 7.5 7.5 7.5" y="0 16.5 33 0 16.5 33">1-11-2</text></g>
<g transform="translate(1020.3 1036.5)"><path d="M0-16.3V37.5"/><text x="-9.5 -9.5 -9.5 7.5 7.5 7.5" y="0 16.5 33 0 16.5 33">2-11-1</text></g>
</g>
</g>

<g id="V-1">
<text class="t" x="119" y="1187">V-<tspan class="g">1</tspan> :EH*</text>
<use id="V1-f" href="#vpd" x="84" y="1224"/><use id="V1-m" href="#vc" x="150.8" y="1224"/>
<text class="m" x="168" y="1222">#</text>
<use href="#ve" x="56.2" y="1274"/><use href="#ve" x="94" y="1274"/><use href="#ve" x="132.3" y="1274"/><use href="#vE" x="171.4" y="1274"/>
<text class="m" x="128.2" y="1300">#</text>
<g class="h">
<g transform="translate(56.2 1304)"><path d="M0-14.5V42"/><text x="-9.5 -9.5 -9.5 7.5 7.5 7.5" y="0 15.5 31 0 15.5 31">--2--3</text></g>
<g transform="translate(96 1304)"><path d="M0-14.5V42"/><text x="-9.5 -9.5 -9.5 7.5 7.5 7.5" y="0 15.5 31 0 15.5 31">--1--1</text></g>
<g transform="translate(171.4 1302)"><path d="M0-13V44"/><text x="-9.5 -9.5 -9.5 7.5 7.5 7.5" y="0 15.5 31 0 15.5 31">--1--3</text></g>
</g>
</g>

<g id="V-2">
<text class="t" x="370" y="1187">V-<tspan class="g">2</tspan>: ECH</text>
<use id="V2-f" href="#vp" x="342" y="1226.5"/><use id="V2-m" href="#vc" x="411.3" y="1226.5"/>
<use href="#vS" x="257" y="1276"/><use href="#vs" x="288" y="1276"/><use href="#vS" x="322.2" y="1276"/><use href="#vS" x="356.5" y="1276"/><use href="#vs" x="401" y="1276"/><use href="#vS" x="435.3" y="1276"/><use href="#vs" x="471.7" y="1276"/><use href="#ve" x="512.8" y="1276"/>
<text class="m" x="253.7" y="1306">#</text><text class="m" x="284.5" y="1306">#</text>
<g class="h">
<g transform="translate(306.5 1182.5)"><path d="M0-12V42"/><text x="-9.5 -9.5 -9.5 7.5 7.5 7.5" y="0 17.5 35 0 17.5 35">111121</text></g>
<g transform="translate(449 1182.5)"><path d="M0-12V42"/><text x="-9.5 -9.5 -9.5 7.5 7.5 7.5" y="0 17.5 35 0 17.5 35">111121</text></g>
<g transform="translate(322.2 1307.5)"><path d="M0-16.5V45"/><text x="-9.5 -9.5 -9.5 7.5 7.5 7.5" y="0 17 34 0 17 34">111121</text></g>
<g transform="translate(356.5 1307.5)"><path d="M0-16.5V45"/><text x="-9.5 -9.5 -9.5 7.5 7.5 7.5" y="0 17 34 0 17 34">111121</text></g>
<g transform="translate(401 1307.5)"><path d="M0-16.5V45"/><text x="-9.5 -9.5 -9.5 7.5 7.5 7.5" y="0 17 34 0 17 34">121121</text></g>
<g transform="translate(438.8 1307.5)"><path d="M0-16.5V45"/><text x="-9.5 -9.5 -9.5 7.5 7.5 7.5" y="0 17 34 0 17 34">121121</text></g>
<g transform="translate(476.5 1307.5)"><path d="M0-16.5V45"/><text x="-9.5 -9.5 -9.5 7.5 7.5 7.5" y="0 17 34 0 17 34">111121</text></g>
<g transform="translate(514.2 1307.5)"><path d="M0-16.5V45"/><text x="-9.5 -9.5 -9.5 7.5 7.5 7.5" y="0 17 34 0 17 34">111121</text></g>
</g>
</g>

<g id="V-5">
<text class="t" x="690" y="1194.4">V-<tspan class="g">5</tspan> :ECH*</text>
<text class="m" x="629.4" y="1231">#</text>
<use id="V5-f" href="#vp" x="655" y="1230.8"/><use id="V5-m" href="#vcd" x="723.3" y="1230.8"/>
<use href="#vE" x="598.5" y="1275"/><use href="#vs" x="637.6" y="1275"/><use href="#vs" x="671.9" y="1275"/><use href="#vS" x="713" y="1275"/><use href="#vE" x="754.1" y="1275"/><use href="#vE" x="791.9" y="1275"/>
<text class="m" x="596" y="1306">#</text><text class="m" x="634" y="1306">#</text><text class="m" x="670" y="1306">#</text>
<g class="h">
<g transform="translate(715 1307.5)"><path d="M0-16.5V45"/><text x="-9.5 -9.5 -9.5 7.5 7.5 7.5" y="0 17 34 0 17 34">--1--2</text></g>
<g transform="translate(754 1307.5)"><path d="M0-16.5V45"/><text x="-9.5 -9.5 -9.5 7.5 7.5 7.5" y="0 17 34 0 17 34">--1--1</text></g>
<g transform="translate(793.2 1307.5)"><path d="M0-16.5V45"/><text x="-9.5 -9.5 -9.5 7.5 7.5 7.5" y="0 17 34 0 17 34">--1--2</text></g>
</g>
</g>

<g id="V-7">
<text class="t" x="935" y="1187">V-<tspan class="g">7</tspan>: EC*</text>
<use id="V7-f" href="#vp" x="901.5" y="1226"/><use id="V7-m" href="#vc" x="970" y="1226"/>
<use href="#vS" x="901.6" y="1277"/><use href="#ve" x="966.7" y="1277"/>
<g class="h">
<g transform="translate(858.4 1184)"><path d="M0-14V42"/><text x="-9.5 -9.5 -9.5 7.5 7.5 7.5" y="0 17 34 0 17 34">--1--2</text></g>
<g transform="translate(999.6 1184)"><path d="M0-14V42"/><text x="-9.5 -9.5 -9.5 7.5 7.5 7.5" y="0 17 34 0 17 34">--1--2</text></g>
<g transform="translate(903.6 1307.5)"><path d="M0-16.5V45"/><text x="-9.5 -9.5 -9.5 7.5 7.5 7.5" y="0 17 34 0 17 34">--1--1</text></g>
<g transform="translate(966.7 1307.5)"><path d="M0-16.5V45"/><text x="-9.5 -9.5 -9.5 7.5 7.5 7.5" y="0 17 34 0 17 34">--1--1</text></g>
</g>
</g>

<g id="V-9">
<text class="t" x="341.5" y="1403.6">V-<tspan class="g">9</tspan>: ECH</text>
<use id="V9-f" href="#s" x="305" y="1448.4"/><use id="V9-m" href="#c" x="371.5" y="1448.4"/>
<use href="#wS" x="266.7" y="1498.6"/><use href="#ws" x="300.5" y="1498.6"/><use href="#wE" x="337.7" y="1498.6"/><use href="#we" x="374.3" y="1498.6"/><use href="#wS" x="410.9" y="1498.6"/>
<g class="h">
<g transform="translate(270.5 1409)"><path d="M0-16.5V40.5"/><text x="-9.5 -9.5 -9.5 7.5 7.5 7.5" y="0 16.5 33 0 16.5 33">-21-12</text></g>
<g transform="translate(418 1409)"><path d="M0-16.5V40.5"/><text x="-9.5 -9.5 -9.5 7.5 7.5 7.5" y="0 16.5 33 0 16.5 33">-21-32</text></g>
<g transform="translate(266.1 1528)"><path d="M0-17V40"/><text x="-9.5 -9.5 -9.5 7.5 7.5 7.5" y="0 16.5 33 0 16.5 33">-21-32</text></g>
<g transform="translate(301.6 1528)"><path d="M0-17V40"/><text x="-9.5 -9.5 -9.5 7.5 7.5 7.5" y="0 16.5 33 0 16.5 33">-21-32</text></g>
<g transform="translate(337.7 1528)"><path d="M0-17V40"/><text x="-9.5 -9.5 -9.5 7.5 7.5 7.5" y="0 16.5 33 0 16.5 33">-21-32</text></g>
<g transform="translate(374.3 1528)"><path d="M0-17V40"/><text x="-9.5 -9.5 -9.5 7.5 7.5 7.5" y="0 16.5 33 0 16.5 33">-11-21</text></g>
<g transform="translate(412.5 1528)"><path d="M0-17V40"/><text x="-9.5 -9.5 -9.5 7.5 7.5 7.5" y="0 16.5 33 0 16.5 33">-21-32</text></g>
</g>
</g>

<g id="M285">
<text class="t" x="690" y="1400.4">M<tspan class="g">285</tspan> :EH</text>
<use id="M285-f" href="#s" x="675.2" y="1444.2"/><use id="M285-m" href="#c" x="743" y="1444.2"/>
<use href="#we" x="542.5" y="1497.8"/><use href="#ws" x="573.6" y="1497.8"/><use href="#we" x="606.4" y="1497.8"/><use href="#wS" x="643.5" y="1497.8"/><use href="#we" x="685.6" y="1497.8"/><use href="#ws" x="722.2" y="1497.8"/><use href="#wG" x="759.3" y="1497.8"/><use href="#we" x="796.4" y="1497.8"/><use href="#we" x="834.1" y="1497.8"/><use href="#wS" x="872.3" y="1497.8"/>
<text class="m" x="540.8" y="1520">#</text>
<g class="h">
<g transform="translate(610.7 1415.5)"><path d="M0-20V48"/><text x="-9.5 -9.5 -9.5 7.5 7.5 7.5" y="0 18 36 0 18 36">1-11-2</text></g>
<g transform="translate(798.6 1416)"><path d="M0-20V45"/><text x="-9.5 -9.5 -9.5 7.5 7.5 7.5" y="0 18 36 0 18 36">1-12-1</text></g>
<g transform="translate(573.6 1528)"><path d="M0-17V40"/><text x="-9.5 -9.5 -9.5 7.5 7.5 7.5" y="0 18 36 0 18 36">1-11-1</text></g>
<g transform="translate(609.1 1528)"><path d="M0-17V40"/><text x="-9.5 -9.5 -9.5 7.5 7.5 7.5" y="0 18 36 0 18 36">2-11-1</text></g>
<g transform="translate(644.6 1528)"><path d="M0-17V40"/><text x="-9.5 -9.5 -9.5 7.5 7.5 7.5" y="0 18 36 0 18 36">1-11-2</text></g>
<g transform="translate(687.2 1528)"><path d="M0-17V40"/><text x="-9.5 -9.5 -9.5 7.5 7.5 7.5" y="0 18 36 0 18 36">2-11-2</text></g>
<g transform="translate(725.4 1528)"><path d="M0-17V40"/><text x="-9.5 -9.5 -9.5 7.5 7.5 7.5" y="0 18 36 0 18 36">------</text></g>
<g transform="translate(762 1528)"><path d="M0-17V40"/><text x="-9.5 -9.5 -9.5 7.5 7.5 7.5" y="0 18 36 0 18 36">1-11-2</text></g>
<g transform="translate(798.6 1528)"><path d="M0-17V40"/><text x="-9.5 -9.5 -9.5 7.5 7.5 7.5" y="0 18 36 0 18 36">2-11-2</text></g>
<g transform="translate(835.8 1528)"><path d="M0-17V40"/><text x="-9.5 -9.5 -9.5 7.5 7.5 7.5" y="0 18 36 0 18 36">2-11-1</text></g>
<g transform="translate(872.9 1528)"><path d="M0-17V40"/><text x="-9.5 -9.5 -9.5 7.5 7.5 7.5" y="0 18 36 0 18 36">1-11-2</text></g>
</g>
</g>

</g>
</svg>
